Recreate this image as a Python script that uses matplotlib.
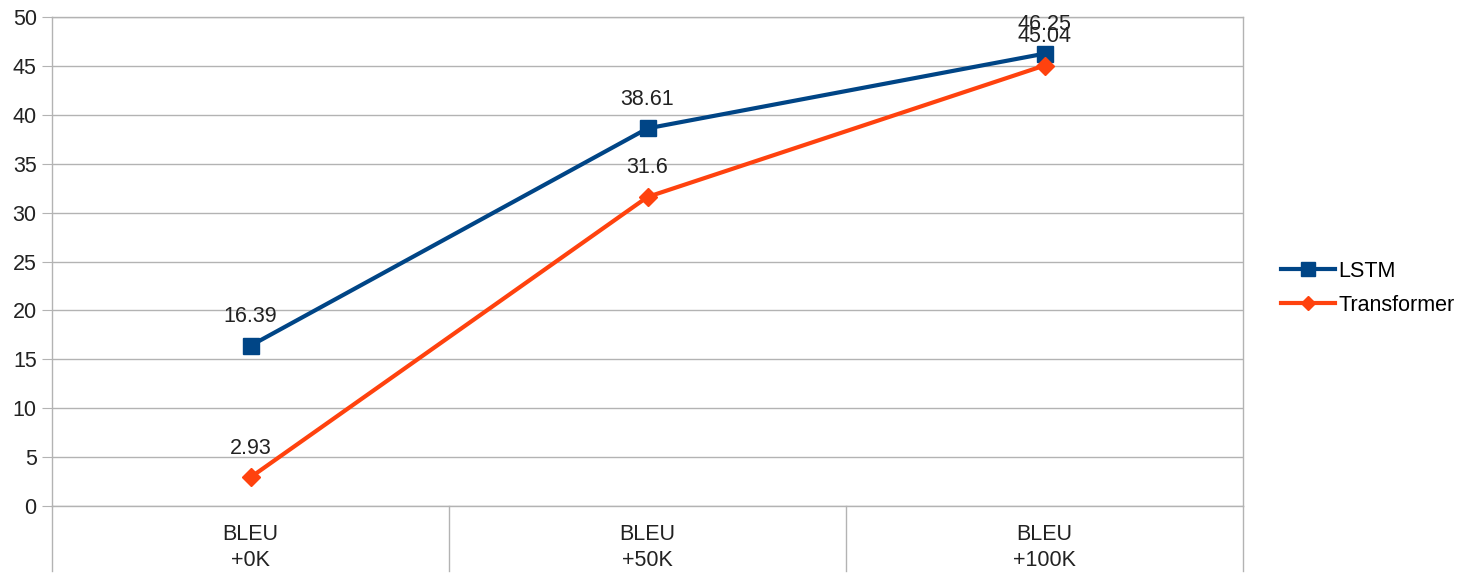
import matplotlib.pyplot as plt
from matplotlib import transforms

plt.rcParams['font.family'] = ['Liberation Sans', 'DejaVu Sans']

# data
categories = ["BLEU\n+0K", "BLEU\n+50K", "BLEU\n+100K"]
lstm = [16.39, 38.61, 46.25]
transformer = [2.93, 31.6, 45.04]
yticks = [0, 5, 10, 15, 20, 25, 30, 35, 40, 45, 50]

blue = "#004586"
orange = "#ff420e"
grid = "#b3b3b3"
txt = "#222222"

fig = plt.figure(figsize=(14.62, 5.74), dpi=100)
ax = fig.add_axes([52 / 1462, 68 / 574, (1243 - 52) / 1462, (506 - 17) / 574])

x = list(range(len(categories)))
ax.plot(x, lstm, color=blue, lw=3, marker="s", ms=12, label="LSTM", zorder=3)
ax.plot(x, transformer, color=orange, lw=3, marker="D", ms=9, label="Transformer", zorder=3)

# data labels (the two at +100K overlap in the original too)
for xi, v in zip(x, lstm):
    ax.annotate(f"{v:g}", (xi, v), xytext=(0, 21), textcoords="offset points",
                ha="center", va="center", fontsize=15.5, color=txt)
for xi, v in zip(x, transformer):
    ax.annotate(f"{v:g}", (xi, v), xytext=(0, 21), textcoords="offset points",
                ha="center", va="center", fontsize=15.5, color=txt)

ax.set_xlim(-0.5, len(categories) - 0.5)
ax.set_ylim(0, 50)
ax.set_yticks(yticks)
ax.set_xticks(x)
ax.set_xticklabels(categories, fontsize=15.5, color=txt, linespacing=1.3)
ax.tick_params(axis="x", length=0, pad=13)
ax.tick_params(axis="y", length=7, color=grid, labelsize=15.5, labelcolor=txt, pad=4)
ax.yaxis.grid(True, color=grid, lw=1)
ax.set_axisbelow(True)
for s in ax.spines.values():
    s.set_color(grid)
    s.set_linewidth(1)

# category separators below the axis
trans = transforms.blended_transform_factory(ax.transData, ax.transAxes)
for b in [-0.5, 0.5, 1.5, 2.5]:
    ax.plot([b, b], [0, -0.132], color=grid, lw=1, transform=trans, clip_on=False)

ax.legend(loc="center left", bbox_to_anchor=(1.016, 0.445), frameon=False,
          fontsize=15.5, handlelength=2.5, handletextpad=0.15, labelspacing=0.6,
          markerscale=0.8)

fig.savefig("out.png", dpi=100)
